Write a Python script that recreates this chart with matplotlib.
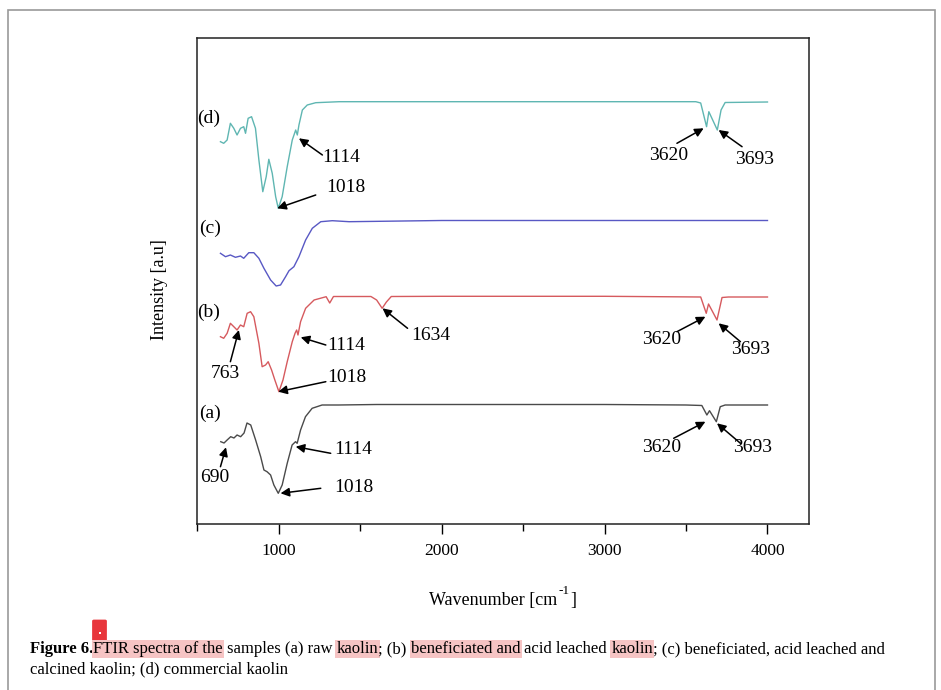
import matplotlib
matplotlib.use('Agg')
import matplotlib.pyplot as plt
from matplotlib.patches import Rectangle, FancyBboxPatch
from matplotlib.ticker import MultipleLocator

plt.rcParams['font.family'] = ['Liberation Serif', 'DejaVu Serif']

# spectra (wavenumber in cm-1, intensity in arbitrary offset units)
wn_a = [643, 663, 682, 704, 724, 743, 765, 786, 804, 827, 857, 888, 908, 927, 949, 969, 996,
        1020, 1051, 1081, 1102, 1112, 1133, 1163, 1204, 1265, 1367, 1600, 2000, 2500, 3000,
        3500, 3597, 3628, 3644, 3686, 3710, 3740, 4000]
int_a = [82.3, 81, 84, 87.3, 86, 89, 87.3, 91, 101, 99, 84, 67.3, 54, 52.3, 49, 39, 30.7,
         39, 60.7, 79, 82.3, 80.7, 94, 107.3, 115.7, 119, 119, 119.5, 119.5, 119.5, 119.5,
         119, 118.5, 109, 113.3, 102.3, 117.3, 119, 119]

wn_b = [641, 661, 682, 702, 723, 743, 764, 784, 805, 826, 846, 877, 897, 918, 934, 955, 975,
        1000, 1025, 1051, 1082, 1099, 1109, 1117, 1133, 1164, 1216, 1290, 1312, 1335, 1400,
        1565, 1600, 1634, 1660, 1690, 2000, 2500, 3000, 3590, 3624, 3638, 3690, 3721, 3760, 4000]
int_b = [187.3, 185.7, 190.7, 200.7, 197.3, 194, 199, 197.3, 210.7, 212.3, 207.3, 180.7, 157.3,
         159, 162.3, 154, 144, 132.3, 144, 162.3, 182.3, 190.7, 194, 189, 202.3, 215.7, 224,
         227.3, 221, 227.5, 227.5, 227.5, 224, 215.7, 222, 227.5, 227.7, 227.7, 227.7, 227,
         210.7, 220, 204, 226.5, 227, 227]

wn_c = [641, 672, 702, 733, 764, 784, 815, 846, 877, 908, 949, 983, 1010, 1041, 1062, 1092,
        1123, 1164, 1205, 1257, 1328, 1431, 2000, 2500, 3000, 3500, 4000]
int_c = [270.7, 267.3, 269, 266.7, 268, 265.7, 271.3, 271.3, 265.7, 255.7, 244, 238, 239,
         247.3, 253.3, 257.3, 267.3, 284, 295.7, 302.3, 303.3, 302.3, 303.5, 303.5, 303.5,
         303.5, 303.5]

wn_d = [641, 661, 682, 702, 723, 743, 764, 784, 795, 811, 832, 856, 877, 901, 922, 938, 959,
        980, 996, 1020, 1051, 1082, 1103, 1113, 1123, 1144, 1174, 1226, 1370, 2000, 2500,
        3000, 3560, 3590, 3626, 3640, 3692, 3715, 3740, 4000]
int_d = [382.3, 380.7, 384, 400.7, 395.7, 389, 395.7, 397.3, 390.7, 405.7, 407.3, 395.7, 364,
         332.3, 347.3, 364.7, 350.7, 327.3, 315.7, 327.3, 357.3, 384, 394, 389, 399, 414, 419,
         421.3, 422.3, 422.3, 422.3, 422.3, 422.3, 421, 397.3, 412.3, 394, 414, 421.5, 422]

series = [(wn_a, int_a, '#4a4a4a'), (wn_b, int_b, '#d65a5e'),
          (wn_c, int_c, '#5858c4'), (wn_d, int_d, '#5fb6b2')]

curve_labels = [('(a)', 507, 111), ('(b)', 495, 212), ('(c)', 513, 296), ('(d)', 495, 406)]

# (text, tip x, tip y, tail x, tail y, text x, text y, ha)
peak_notes = [
    ('1114', 1123, 385.7, 1267, 369, 1267, 366, 'left'),
    ('1018', 990, 315.7, 1226, 329, 1290, 337, 'left'),
    ('3620', 3608, 395.7, 3444, 380.7, 3396, 369, 'center'),
    ('3693', 3700, 394, 3844, 377.3, 3920, 365, 'center'),
    ('763', 754, 194, 702, 162.3, 674, 151, 'center'),
    ('1114', 1134, 186.7, 1288, 179, 1296, 179, 'left'),
    ('1018', 996, 132.3, 1288, 142.3, 1296, 147, 'left'),
    ('1634', 1636, 215.7, 1790, 195.7, 1813, 189, 'left'),
    ('3620', 3619, 207.3, 3444, 192.3, 3347, 184, 'center'),
    ('3693', 3700, 200.7, 3834, 182.3, 3895, 174, 'center'),
    ('690', 675, 76.7, 641, 57.3, 606, 46, 'center'),
    ('1114', 1103, 77.3, 1318, 70.7, 1339, 74, 'left'),
    ('1018', 1010, 30.7, 1257, 35.7, 1339, 37, 'left'),
    ('3620', 3619, 102.3, 3424, 85.7, 3353, 76, 'center'),
    ('3693', 3690, 100.7, 3834, 80.7, 3908, 76, 'center'),
]

caption_line1 = [('Figure 6.', True, False, False),
                 ('FTIR spectra of the', False, True, True),
                 ('samples (a) raw', False, False, True),
                 ('kaolin', False, True, False),
                 ('; (b)', False, False, True),
                 ('beneficiated and', False, True, True),
                 ('acid leached', False, False, True),
                 ('kaolin', False, True, False),
                 ('; (c) beneficiated, acid leached and', False, False, False)]
caption_line2 = 'calcined kaolin; (d) commercial kaolin'

fig = plt.figure(figsize=(9.41, 6.9), dpi=100)
ax = fig.add_axes([197 / 941, 1 - 524 / 690, 612 / 941, 486 / 690])

for wn, inten, col in series:
    ax.plot(wn, inten, color=col, lw=1.0)

for lab, x, y in curve_labels:
    ax.text(x, y, lab, fontsize=14, ha='left', va='center')

for txt, tx, ty, sx, sy, lx, ly, ha in peak_notes:
    ax.annotate('', xy=(tx, ty), xytext=(sx, sy),
                arrowprops=dict(arrowstyle='-|>', color='black', lw=1.1,
                                mutation_scale=13, shrinkA=0, shrinkB=0))
    ax.text(lx, ly, txt, fontsize=14, ha=ha, va='center')

ax.set_xlim(497, 4255)
ax.set_ylim(0, 486)
ax.set_yticks([])
ax.xaxis.set_major_locator(MultipleLocator(1000))
ax.xaxis.set_minor_locator(MultipleLocator(500))
ax.tick_params(axis='x', which='major', direction='out', length=7, width=1, labelsize=12.5, pad=7)
ax.tick_params(axis='x', which='minor', direction='out', length=5, width=1)
for sp in ax.spines.values():
    sp.set_linewidth(1.1)
    sp.set_color('#222222')

renderer = fig.canvas.get_renderer()
W = fig.bbox.width


def text_w(t):
    return t.get_window_extent(renderer).width / W


# x label built from pieces so the superscript keeps a plain hyphen
xl_y = 1 - 601 / 690
p1 = fig.text(0, xl_y, 'Wavenumber [cm', fontsize=13, ha='left', va='center')
p2 = fig.text(0, xl_y + 10 / 690, '-1', fontsize=9.5, ha='left', va='center')
p3 = fig.text(0, xl_y, ']', fontsize=13, ha='left', va='center')
total = text_w(p1) + text_w(p2) + 2 / W + text_w(p3)
x0 = 503 / 941 - total / 2
p1.set_x(x0)
p2.set_x(x0 + text_w(p1) + 1 / W)
p3.set_x(x0 + text_w(p1) + text_w(p2) + 2 / W)

fig.text(160 / 941, 1 - 290 / 690, 'Intensity [a.u]', fontsize=13, rotation=90,
         ha='center', va='center')

# page frame
fig.patches.append(Rectangle((8 / 941, -0.01), 927 / 941, 1.01 - 10 / 690, transform=fig.transFigure,
                             fill=False, edgecolor='#9a9a9a', lw=1.2))

# caption with highlighted words
cap_size = 12
probe = fig.text(0, 0, 'a a', fontsize=cap_size)
probe2 = fig.text(0, 0, 'aa', fontsize=cap_size)
space_w = text_w(probe) - text_w(probe2)
probe.remove()
probe2.remove()

x = 30 / 941
y1 = 1 - 649 / 690
for seg, bold, hl, sp in caption_line1:
    t = fig.text(x, y1, seg, fontsize=cap_size, fontweight='bold' if bold else 'normal',
                 ha='left', va='center')
    if hl:
        t.set_bbox(dict(facecolor='#f6c4c4', edgecolor='none', pad=1.0))
    x += text_w(t)
    if sp:
        x += space_w
fig.text(30 / 941, 1 - 669 / 690, caption_line2, fontsize=cap_size, ha='left', va='center')

# red marker above the caption
fig.patches.append(FancyBboxPatch((94 / 941, 1 - 642 / 690), 11 / 941, 21 / 690,
                                  boxstyle='round,pad=0.002', transform=fig.transFigure,
                                  facecolor='#e8363c', edgecolor='none'))
fig.patches.append(Rectangle((99 / 941, 1 - 634 / 690), 2 / 941, 2 / 690, transform=fig.transFigure,
                             facecolor='white', edgecolor='none'))

fig.savefig('out.png', dpi=100)
